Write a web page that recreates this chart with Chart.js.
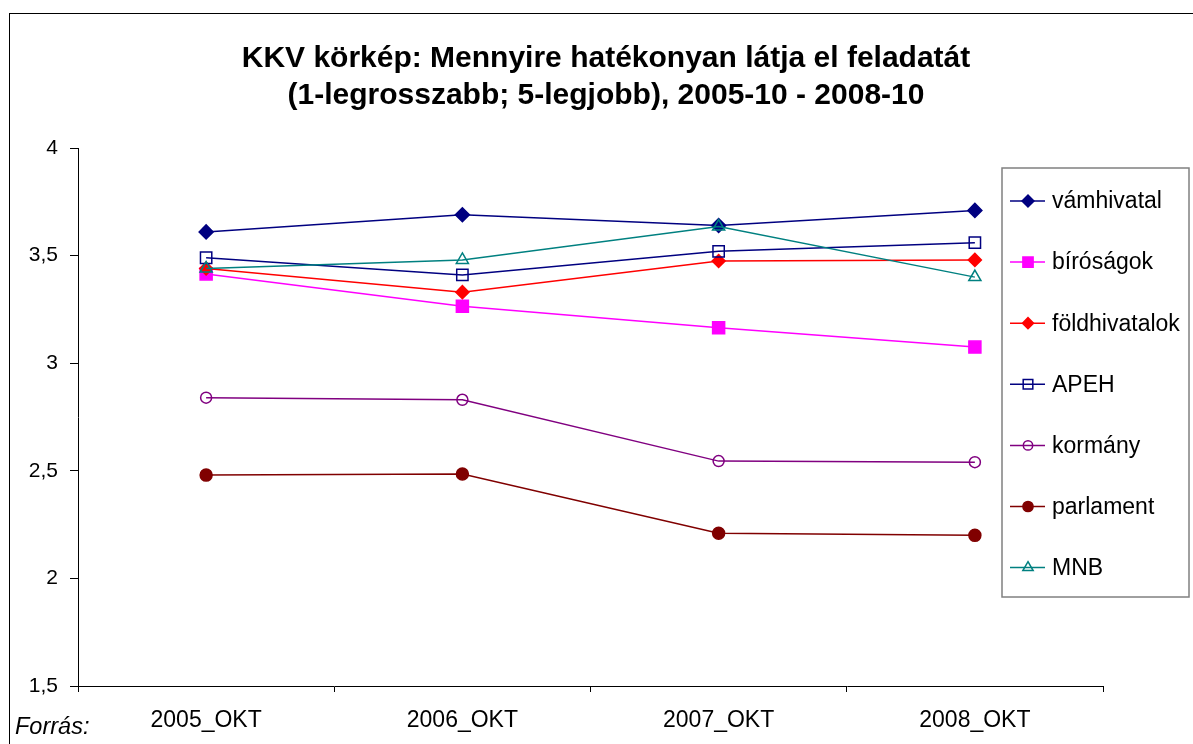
<!DOCTYPE html>
<html>
<head>
<meta charset="utf-8">
<script src="https://cdn.jsdelivr.net/npm/chart.js@4/dist/chart.umd.min.js"></script>
<style>
  html, body { margin: 0; padding: 0; background: #fff; }
  canvas { display: block; }
</style>
</head>
<body>
<canvas id="chart" width="1193" height="744"></canvas>
<script>
const categories = ['2005_OKT', '2006_OKT', '2007_OKT', '2008_OKT'];

const seriesNames = ['vámhivatal', 'bíróságok', 'földhivatalok', 'APEH', 'kormány', 'parlament', 'MNB'];
const vamhivatal = [3.61, 3.69, 3.64, 3.71];
const birosagok = [3.415, 3.265, 3.165, 3.075];
const foldhivatalok = [3.44, 3.33, 3.475, 3.48];
const apeh = [3.49, 3.41, 3.52, 3.56];
const kormany = [2.84, 2.83, 2.545, 2.54];
const parlament = [2.48, 2.485, 2.21, 2.20];
const mnb = [3.44, 3.48, 3.635, 3.40];

const yMin = 1.5;
const yMax = 4;
const yStep = 0.5;

const titleLines = ['KKV körkép: Mennyire hatékonyan látja el feladatát', '(1-legrosszabb; 5-legjobb), 2005-10 - 2008-10'];
const sourceText = 'Forrás:';

const FONT = '"Liberation Sans", Arial, sans-serif';

// style per series: color, marker, marker size, marker fill
const styles = [
  { color: '#000080', shape: 'rectRot', r: 7, fill: '#000080' },
  { color: '#FF00FF', shape: 'rect', r: 8.5, fill: '#FF00FF' },
  { color: '#FF0000', shape: 'rectRot', r: 6.5, fill: '#FF0000' },
  { color: '#000080', shape: 'rect', r: 8, fill: 'rgba(0,0,0,0)' },
  { color: '#800080', shape: 'circle', r: 5.5, fill: 'rgba(0,0,0,0)' },
  { color: '#800000', shape: 'circle', r: 6, fill: '#800000' },
  { color: '#008080', shape: 'triangle', r: 7, fill: 'rgba(0,0,0,0)' }
];

const values = [vamhivatal, birosagok, foldhivatalok, apeh, kormany, parlament, mnb];

const datasets = values.map((data, i) => ({
  label: seriesNames[i],
  data: data,
  borderColor: styles[i].color,
  borderWidth: 1.5,
  pointStyle: styles[i].shape,
  pointRadius: styles[i].r,
  pointBackgroundColor: styles[i].fill,
  pointBorderColor: styles[i].color,
  pointBorderWidth: 1.5,
  fill: false,
  tension: 0,
  order: values.length - i
}));

// frame, title, source note
const framePlugin = {
  id: 'frame',
  beforeDraw(chart) {
    const ctx = chart.ctx;
    ctx.save();
    ctx.fillStyle = '#fff';
    ctx.fillRect(0, 0, chart.width, chart.height);
    ctx.strokeStyle = '#000';
    ctx.lineWidth = 1;
    ctx.strokeRect(9.5, 13.5, chart.width + 20, chart.height + 20);
    ctx.fillStyle = '#000';
    ctx.textAlign = 'center';
    ctx.textBaseline = 'middle';
    ctx.font = 'bold 30px ' + FONT;
    ctx.fillText(titleLines[0], 606, 59);
    ctx.fillText(titleLines[1], 606, 96);
    ctx.textAlign = 'left';
    ctx.font = 'italic 23.5px ' + FONT;
    ctx.fillText(sourceText, 15, 727);
    ctx.restore();
  }
};

// boxed legend sitting over the right part of the plot
const legendPlugin = {
  id: 'boxLegend',
  afterDraw(chart) {
    const ctx = chart.ctx;
    const box = { x: 1002, y: 168, w: 187, h: 429 };
    ctx.save();
    ctx.fillStyle = '#fff';
    ctx.fillRect(box.x, box.y, box.w, box.h);
    ctx.strokeStyle = '#808080';
    ctx.lineWidth = 1.5;
    ctx.strokeRect(box.x, box.y, box.w, box.h);
    ctx.font = '23px ' + FONT;
    ctx.textBaseline = 'middle';
    ctx.textAlign = 'left';
    chart.data.datasets.forEach((ds, i) => {
      const y = 201 + i * 61.1;
      ctx.strokeStyle = ds.borderColor;
      ctx.lineWidth = 1.5;
      ctx.beginPath();
      ctx.moveTo(1010, y);
      ctx.lineTo(1045, y);
      ctx.stroke();
      ctx.fillStyle = ds.pointBackgroundColor;
      ctx.strokeStyle = ds.pointBorderColor;
      Chart.helpers.drawPoint(ctx, {
        pointStyle: ds.pointStyle,
        radius: ds.pointRadius * 0.85,
        borderWidth: ds.pointBorderWidth,
        rotation: 0
      }, 1028, y);
      ctx.fillStyle = '#000';
      ctx.fillText(ds.label, 1052, y + 1);
    });
    ctx.restore();
  }
};

new Chart(document.getElementById('chart').getContext('2d'), {
  type: 'line',
  data: { labels: categories, datasets: datasets },
  plugins: [framePlugin, legendPlugin],
  options: {
    responsive: false,
    animation: false,
    devicePixelRatio: 1,
    events: [],
    layout: { padding: { left: 0, right: 90, top: 148, bottom: 0 } },
    plugins: {
      legend: { display: false },
      title: { display: false },
      tooltip: { enabled: false }
    },
    scales: {
      x: {
        type: 'category',
        offset: true,
        grid: { display: true, drawOnChartArea: false, offset: true, tickLength: 6, color: '#000', lineWidth: 1 },
        border: { display: true, color: '#000', width: 1 },
        ticks: { color: '#000', font: { family: FONT, size: 23 }, padding: 15, maxRotation: 0, autoSkip: false },
        afterFit(scale) {
          scale.height = 58;
          scale.paddingLeft = 0;
          scale.paddingRight = 0;
        }
      },
      y: {
        min: yMin,
        max: yMax,
        grid: { display: true, drawOnChartArea: false, tickLength: 8, color: '#000', lineWidth: 1 },
        border: { display: true, color: '#000', width: 1 },
        ticks: {
          stepSize: yStep,
          color: '#000',
          font: { family: FONT, size: 21 },
          padding: 12,
          callback: (v) => String(v).replace('.', ',')
        },
        afterFit(scale) {
          scale.width = 78;
          scale.paddingTop = 0;
          scale.paddingBottom = 0;
        }
      }
    }
  }
});
</script>
</body>
</html>
